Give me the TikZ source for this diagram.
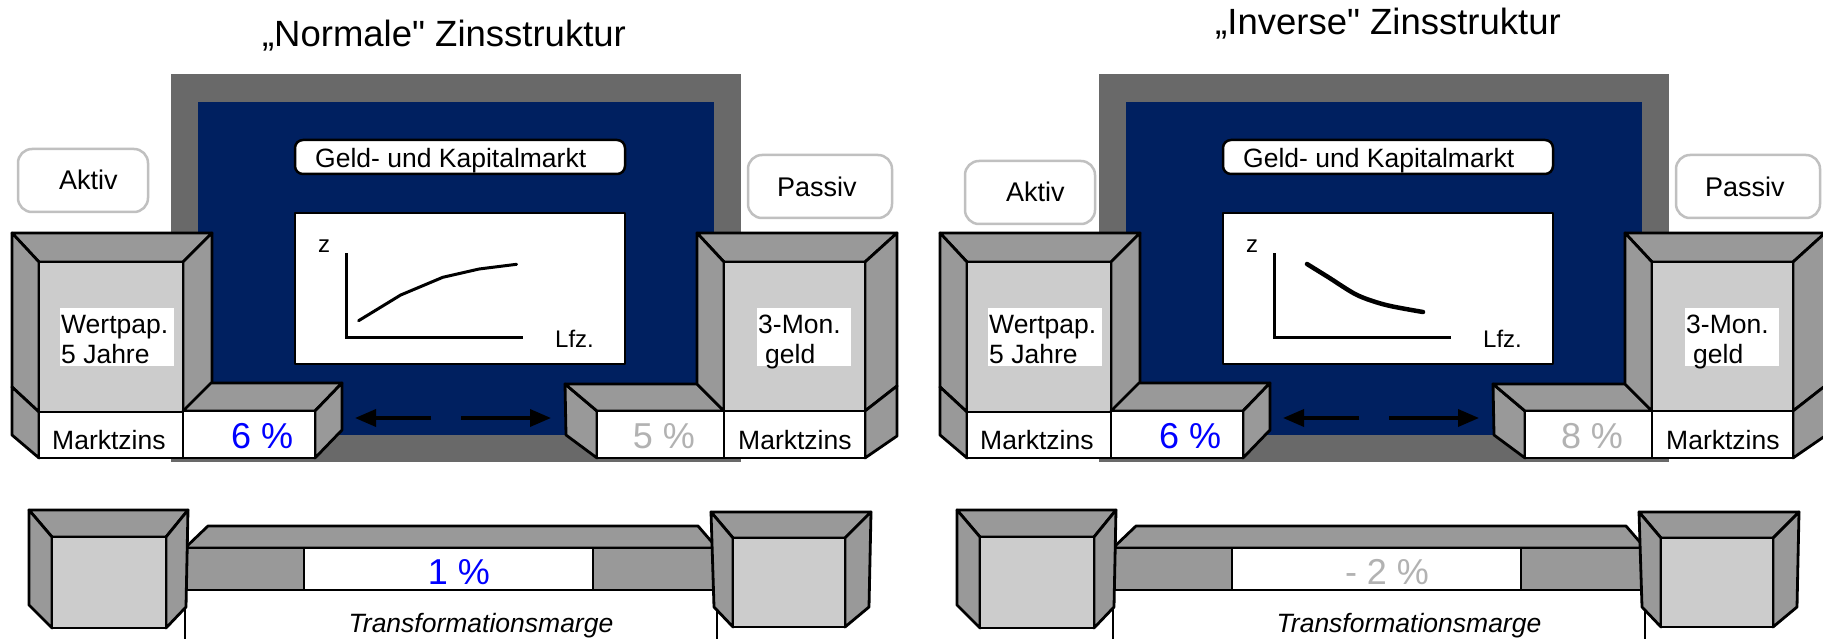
\documentclass[tikz,border=0pt]{standalone}
\usepackage{fontspec}
\setmainfont[Ligatures=TeXOff]{Liberation Sans}
\usetikzlibrary{arrows.meta}
\definecolor{framegray}{RGB}{105,105,105}
\definecolor{navy}{RGB}{0,32,96}
\definecolor{sidegray}{RGB}{153,153,153}
\definecolor{frontgray}{RGB}{204,204,204}
\definecolor{pctgray}{RGB}{178,178,178}
\definecolor{boxborder}{RGB}{192,192,192}
\definecolor{pctblue}{RGB}{0,0,255}
\tikzset{
  side/.style={draw=black, line width=2.8pt, line join=round, fill=sidegray},
  face/.style={draw=black, line width=2.8pt, line join=round, fill=frontgray},
  wbox/.style={draw=black, line width=2.8pt, line join=round, fill=white},
  gbox/.style={draw=black, line width=2.5pt, fill=white, rounded corners=8pt},
  tbox/.style={draw=boxborder, line width=2.5pt, fill=white, rounded corners=14pt},
  lbl/.style={inner sep=0pt, font=\fontsize{26.5}{30}\selectfont},
  lblb/.style={inner sep=0pt, font=\fontsize{27}{30}\selectfont},
  small/.style={inner sep=0pt, font=\fontsize{24}{28}\selectfont},
  big/.style={inner sep=0pt, font=\fontsize{36}{40}\selectfont},
  ttl/.style={inner sep=0pt, font=\fontsize{36.5}{40}\selectfont},
  arr/.style={line width=3.5pt, -{Triangle[length=21pt,width=17pt]}},
}
% #1 prefix, #2 shift of Aktiv box, #3 left rate, #4 right rate, #5 margin text
\newcommand\zpanel[5]{%
  \fill[framegray] (171,74) rectangle (741,462);
  \fill[navy] (198,102) rectangle (714,435);
  % Geld- und Kapitalmarkt
  \draw[gbox] (295,140) rectangle (625,174);
  \node[lbl, anchor=base west] (#1geld) at (315,168) {Geld- und Kapitalmarkt};
  % chart
  \draw[wbox, line width=2.5pt] (295,213) rectangle (625,364);
  \coordinate (#1ytop) at (346,253);
  \coordinate (#1xend) at (523,337);
  \draw[line width=3pt] (#1ytop) |- (#1xend);
  \node[small, anchor=base] (#1z) at (324,252) {z};
  \node[small, anchor=base west] (#1lfz) at (555,347) {Lfz.};
  % arrows
  \coordinate (#1la) at (431,418); \coordinate (#1lb) at (355,418);
  \coordinate (#1ra) at (461,418); \coordinate (#1rb) at (551,418);
  \draw[arr] (#1la) -- (#1lb);
  \draw[arr] (#1ra) -- (#1rb);
  % Aktiv / Passiv
  \begin{scope}[shift={(#2)}]
    \draw[tbox] (18,149) rectangle (148,212);
    \node[lblb, anchor=base west] (#1aktiv) at (59,190) {Aktiv};
  \end{scope}
  \draw[tbox] (748,155) rectangle (892,218);
  \node[lblb, anchor=base west] (#1passiv) at (777,197) {Passiv};
  % left tall cube
  \draw[side] (12,233) -- (212,233) -- (183,262) -- (39,262) -- cycle;
  \draw[side] (12,233) -- (39,262) -- (39,412) -- (12,387) -- cycle;
  \draw[side] (212,233) -- (183,262) -- (183,412) -- (212,383) -- cycle;
  \draw[face] (39,262) rectangle (183,412);
  \draw[side] (12,387) -- (39,412) -- (39,458) -- (12,435) -- cycle;
  \draw[wbox] (39,412) rectangle (183,458);
  \node[lbl, anchor=base west] (#1mzl) at (52,449) {Marktzins};
  \fill[white] (60,308) rectangle (174,366);
  \node[lbl, anchor=base west] (#1wp) at (61,333) {Wertpap.};
  \node[lbl, anchor=base west] (#1wj) at (61,363) {5 Jahre};
  % left rate box
  \draw[side] (183,411) -- (211,383) -- (342,383) -- (315,411) -- cycle;
  \draw[side] (315,411) -- (342,383) -- (342,430) -- (315,458) -- cycle;
  \draw[wbox] (183,411) rectangle (315,458);
  \node[big, anchor=base west, text=pctblue] (#1lr) at (231,448) {#3};
  % right rate box
  \draw[side] (565,384) -- (597,411) -- (597,458) -- (566,435) -- cycle;
  \draw[side] (565,384) -- (697,384) -- (724,411) -- (597,411) -- cycle;
  \draw[wbox] (597,411) rectangle (724,458);
  \node[big, anchor=base, text=pctgray] (#1rr) at (664,448) {#4};
  % right tall cube
  \draw[side] (697,233) -- (897,233) -- (865,262) -- (724,262) -- cycle;
  \draw[side] (697,233) -- (724,262) -- (724,411) -- (697,384) -- cycle;
  \draw[side] (897,233) -- (865,262) -- (865,411) -- (897,386) -- cycle;
  \draw[face] (724,262) rectangle (865,411);
  \draw[side] (865,411) -- (897,386) -- (897,436) -- (865,458) -- cycle;
  \draw[wbox] (724,411) rectangle (865,458);
  \node[lbl, anchor=base west] (#1mzr) at (738,449) {Marktzins};
  \fill[white] (757,308) rectangle (851,366);
  \node[lbl, anchor=base west] (#1mon) at (758,333) {3-Mon.};
  \node[lbl, anchor=base west] (#1geldw) at (765,363) {geld};
  % bottom bar
  \draw[side] (185,548) -- (208,526) -- (698,526) -- (717,548) -- cycle;
  \draw[side] (185,548) rectangle (717,590);
  \draw[wbox] (304,548) rectangle (593,590);
  \node[big, anchor=base] (#1marg) at (459,584) {#5};
  \coordinate (#1ml) at (185,590); \coordinate (#1mlb) at (185,640);
  \coordinate (#1mr) at (717,590); \coordinate (#1mrb) at (717,640);
  \draw[line width=1.5pt] (#1ml) -- (#1mlb);
  \draw[line width=1.5pt] (#1mr) -- (#1mrb);
  \node[lbl, anchor=base] (#1tm) at (481,632) {\itshape Transformationsmarge};
  % bottom left cube
  \draw[side] (29,510) -- (188,510) -- (166,537) -- (52,537) -- cycle;
  \draw[side] (29,510) -- (52,537) -- (52,628) -- (29,605) -- cycle;
  \draw[side] (188,510) -- (166,537) -- (166,628) -- (186,607) -- cycle;
  \draw[face] (52,537) rectangle (166,628);
  % bottom right cube
  \draw[side] (711,512) -- (871,512) -- (845,538) -- (733,538) -- cycle;
  \draw[side] (711,512) -- (733,538) -- (733,627) -- (714,607) -- cycle;
  \draw[side] (871,512) -- (845,538) -- (845,627) -- (869,607) -- cycle;
  \draw[face] (733,538) rectangle (845,627);
}
\begin{document}
\begin{tikzpicture}[x=1pt,y=-1pt]
\useasboundingbox (0,0) rectangle (1823,639);
\fill[white] (0,0) rectangle (1823,639);
% left panel
\begin{scope}
  \zpanel{L}{0,0}{6 \%}{5 \%}{\textcolor{pctblue}{1 \%}}
  \draw[line width=3pt, line cap=round, line join=round]
    (358.6,320.7) -- (400.7,295) -- (442.8,277.3) -- (479.1,269) -- (516.6,264.3);
\end{scope}
\node[ttl, anchor=base] (tl) at (444,46.7) {„Normale" Zinsstruktur};
% right panel
\begin{scope}[xshift=928pt]
  \zpanel{R}{19,12}{6 \%}{8 \%}{\textcolor{pctgray}{- 2 \%}}
  \draw[line width=4.5pt, line cap=round]
    plot[smooth] coordinates {(379,264) (400,277) (429,295) (458,305) (495,312)};
\end{scope}
\node[ttl, anchor=base] (tr) at (1388,35) {„Inverse" Zinsstruktur};
\end{tikzpicture}
\end{document}
